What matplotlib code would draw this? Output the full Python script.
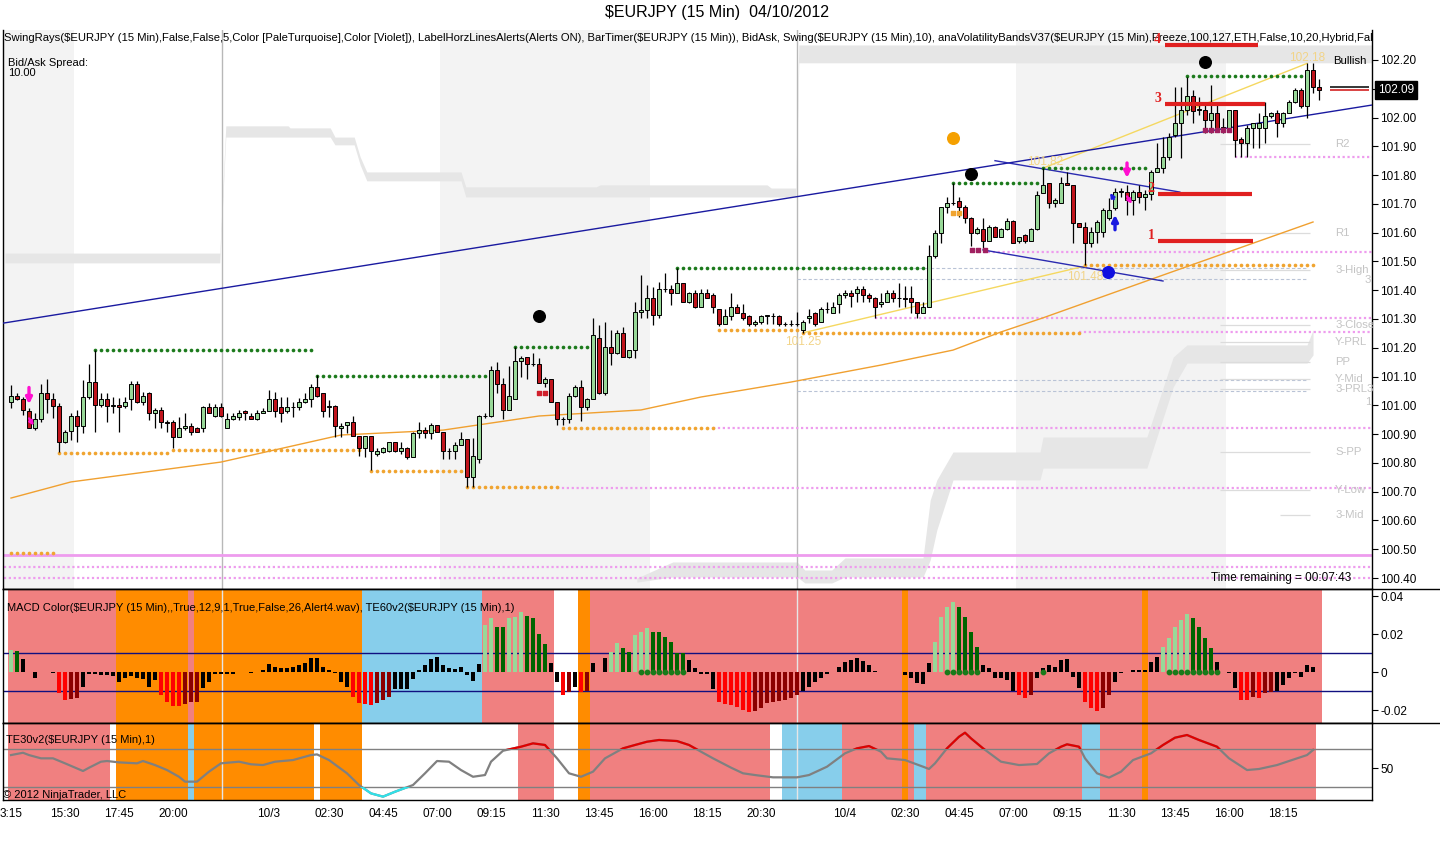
import numpy as np
import matplotlib.pyplot as plt
from matplotlib.patches import Rectangle
import matplotlib.transforms as mtransforms

plt.rcParams['font.family'] = ['Liberation Sans', 'DejaVu Sans']
plt.rcParams['font.size'] = 8

W, H = 1440, 847

# ---------------------------------------------------------------------------
# price bars, 15 min, bar 0 = 10/2 13:15
# ---------------------------------------------------------------------------
opens = [
    101.012, 101.032, 101.022, 100.982, 100.920, 100.952, 101.042, 101.021, 100.999, 100.872,
    100.911, 100.963, 100.930, 101.030, 101.080, 101.000, 101.022, 100.999, 101.001, 100.999,
    101.021, 101.073, 101.011, 101.042, 100.972, 100.984, 100.941, 100.941, 100.891, 100.920,
    100.930, 100.920, 100.920, 100.993, 100.963, 100.993, 100.920, 100.952, 100.961, 100.982,
    100.963, 100.952, 100.972, 100.982, 101.021, 100.993, 100.982, 100.993, 100.993, 101.011,
    101.021, 101.063, 101.042, 100.993, 100.999, 100.920, 100.932, 100.941, 100.894, 100.851,
    100.894, 100.831, 100.839, 100.842, 100.872, 100.842, 100.851, 100.822, 100.905, 100.914,
    100.903, 100.932, 100.909, 100.842, 100.842, 100.863, 100.883, 100.750, 100.813, 100.963,
    100.963, 101.123, 101.073, 100.984, 101.021, 101.154, 101.169, 101.142, 101.142, 101.079,
    101.090, 101.011, 100.952, 100.952, 101.033, 101.063, 100.993, 101.021, 101.233, 101.042,
    101.204, 101.181, 101.250, 101.169, 101.192, 101.325, 101.333, 101.372, 101.314, 101.403,
    101.403, 101.391, 101.424, 101.360, 101.391, 101.341, 101.392, 101.384, 101.334, 101.283,
    101.312, 101.341, 101.322, 101.312, 101.283, 101.291, 101.312, 101.312, 101.312, 101.283,
    101.283, 101.283, 101.262, 101.303, 101.322, 101.291, 101.334, 101.322, 101.352, 101.384,
    101.392, 101.392, 101.403, 101.384, 101.372, 101.352, 101.360, 101.392, 101.372, 101.372,
    101.372, 101.360, 101.322, 101.341, 101.519, 101.600, 101.690, 101.702, 101.711, 101.690,
    101.650, 101.600, 101.612, 101.572, 101.621, 101.584, 101.612, 101.642, 101.572, 101.592,
    101.572, 101.612, 101.737, 101.771, 101.702, 101.702, 101.771, 101.766, 101.632, 101.621,
    101.563, 101.603, 101.603, 101.650, 101.684, 101.742, 101.742, 101.713, 101.742, 101.725,
    101.733, 101.812, 101.823, 101.864, 101.939, 101.982, 102.026, 102.075, 102.028, 102.026,
    101.991, 102.014, 101.968, 101.962, 102.026, 101.924, 101.913, 101.962, 101.962, 101.962,
    102.005, 102.014, 101.982, 102.014, 102.055, 102.096, 102.040, 102.165, 102.107,
]
highs = [
    101.071, 101.042, 101.030, 100.990, 100.972, 101.073, 101.092, 101.042, 101.007, 100.914,
    100.975, 100.984, 101.088, 101.144, 101.194, 101.042, 101.042, 101.030, 101.025, 101.030,
    101.083, 101.083, 101.048, 101.048, 100.990, 100.996, 100.949, 100.949, 100.961, 100.972,
    100.938, 100.926, 100.998, 101.007, 101.005, 101.007, 100.972, 100.972, 100.984, 100.984,
    100.972, 100.984, 100.990, 101.054, 101.048, 101.030, 101.030, 101.013, 101.025, 101.042,
    101.073, 101.106, 101.042, 101.019, 101.001, 100.938, 100.941, 100.964, 100.894, 100.894,
    100.894, 100.851, 100.857, 100.872, 100.872, 100.872, 100.857, 100.909, 100.941, 100.926,
    100.938, 100.932, 100.909, 100.851, 100.874, 100.909, 100.883, 100.886, 100.967, 100.973,
    101.135, 101.152, 101.094, 101.135, 101.204, 101.171, 101.169, 101.181, 101.163, 101.099,
    101.090, 101.011, 100.961, 101.042, 101.071, 101.088, 101.025, 101.302, 101.279, 101.291,
    101.262, 101.262, 101.273, 101.192, 101.360, 101.453, 101.418, 101.412, 101.430, 101.461,
    101.418, 101.476, 101.424, 101.395, 101.401, 101.403, 101.403, 101.392, 101.334, 101.334,
    101.392, 101.352, 101.352, 101.314, 101.297, 101.314, 101.314, 101.320, 101.314, 101.291,
    101.295, 101.326, 101.297, 101.334, 101.326, 101.343, 101.360, 101.360, 101.389, 101.401,
    101.401, 101.413, 101.413, 101.389, 101.378, 101.392, 101.401, 101.401, 101.424, 101.413,
    101.413, 101.360, 101.360, 101.557, 101.610, 101.690, 101.725, 101.772, 101.723, 101.696,
    101.656, 101.619, 101.650, 101.627, 101.623, 101.615, 101.650, 101.644, 101.586, 101.596,
    101.615, 101.743, 101.823, 101.771, 101.719, 101.794, 101.812, 101.766, 101.634, 101.638,
    101.621, 101.644, 101.684, 101.719, 101.754, 101.754, 101.766, 101.748, 101.766, 101.748,
    101.818, 101.910, 101.933, 101.945, 102.105, 102.107, 102.142, 102.096, 102.072, 102.043,
    102.113, 102.055, 101.997, 102.026, 102.026, 101.933, 101.974, 101.982, 102.014, 102.055,
    102.020, 102.026, 102.020, 102.061, 102.101, 102.101, 102.188, 102.188, 102.133,
]
lows = [
    100.992, 101.019, 100.967, 100.920, 100.914, 100.943, 100.972, 100.955, 100.837, 100.868,
    100.880, 100.872, 100.903, 101.022, 100.909, 100.996, 100.941, 100.972, 100.909, 100.990,
    100.984, 101.007, 101.001, 100.949, 100.920, 100.920, 100.909, 100.851, 100.891, 100.914,
    100.897, 100.909, 100.909, 100.972, 100.961, 100.961, 100.920, 100.949, 100.949, 100.949,
    100.952, 100.949, 100.972, 100.982, 100.961, 100.941, 100.972, 100.961, 100.984, 101.007,
    100.993, 101.030, 100.961, 100.961, 100.891, 100.891, 100.903, 100.894, 100.824, 100.822,
    100.776, 100.824, 100.833, 100.839, 100.839, 100.831, 100.813, 100.822, 100.886, 100.886,
    100.883, 100.909, 100.813, 100.813, 100.813, 100.863, 100.718, 100.718, 100.801, 100.955,
    100.961, 101.042, 100.952, 100.984, 101.021, 101.099, 101.090, 101.135, 101.076, 101.065,
    101.011, 100.932, 100.932, 100.938, 101.030, 100.944, 100.984, 101.021, 101.040, 101.036,
    101.140, 101.178, 101.169, 101.163, 101.163, 101.302, 101.302, 101.279, 101.302, 101.395,
    101.349, 101.391, 101.360, 101.354, 101.337, 101.341, 101.372, 101.320, 101.274, 101.283,
    101.297, 101.320, 101.297, 101.274, 101.274, 101.283, 101.283, 101.283, 101.274, 101.274,
    101.274, 101.274, 101.252, 101.285, 101.274, 101.291, 101.320, 101.320, 101.320, 101.372,
    101.341, 101.360, 101.360, 101.360, 101.303, 101.343, 101.360, 101.360, 101.341, 101.341,
    101.320, 101.303, 101.320, 101.341, 101.511, 101.565, 101.667, 101.696, 101.656, 101.633,
    101.552, 101.596, 101.540, 101.572, 101.584, 101.584, 101.610, 101.563, 101.563, 101.563,
    101.572, 101.610, 101.737, 101.684, 101.690, 101.702, 101.766, 101.563, 101.621, 101.488,
    101.551, 101.563, 101.586, 101.644, 101.679, 101.725, 101.661, 101.661, 101.702, 101.679,
    101.713, 101.812, 101.806, 101.852, 101.933, 101.858, 102.009, 101.982, 102.009, 101.945,
    101.945, 101.957, 101.945, 101.957, 101.864, 101.864, 101.864, 101.893, 101.893, 101.910,
    101.997, 101.933, 101.968, 102.014, 102.049, 102.032, 101.997, 102.084, 102.061,
]
closes = [
    101.033, 101.022, 100.984, 100.920, 100.952, 101.042, 101.021, 100.999, 100.872, 100.909,
    100.963, 100.930, 101.030, 101.080, 101.000, 101.022, 100.999, 101.000, 100.993, 101.011,
    101.073, 101.011, 101.033, 100.972, 100.984, 100.941, 100.940, 100.891, 100.920, 100.930,
    100.909, 100.909, 100.993, 100.972, 100.993, 100.963, 100.952, 100.963, 100.972, 100.972,
    100.952, 100.972, 100.982, 101.021, 100.982, 100.972, 100.993, 100.994, 101.011, 101.021,
    101.063, 101.033, 100.982, 100.999, 100.930, 100.930, 100.941, 100.894, 100.851, 100.894,
    100.842, 100.842, 100.851, 100.872, 100.842, 100.851, 100.822, 100.905, 100.914, 100.903,
    100.932, 100.909, 100.842, 100.843, 100.863, 100.883, 100.750, 100.824, 100.963, 100.964,
    101.123, 101.073, 100.984, 101.033, 101.154, 101.163, 101.142, 101.143, 101.079, 101.090,
    101.011, 100.952, 100.953, 101.033, 101.063, 100.993, 101.021, 101.244, 101.042, 101.204,
    101.181, 101.250, 101.169, 101.192, 101.325, 101.333, 101.372, 101.314, 101.403, 101.404,
    101.391, 101.424, 101.360, 101.391, 101.340, 101.392, 101.372, 101.341, 101.283, 101.312,
    101.341, 101.322, 101.303, 101.283, 101.291, 101.312, 101.313, 101.311, 101.283, 101.284,
    101.282, 101.284, 101.291, 101.312, 101.283, 101.334, 101.335, 101.341, 101.384, 101.392,
    101.381, 101.403, 101.384, 101.372, 101.341, 101.360, 101.392, 101.372, 101.373, 101.371,
    101.360, 101.322, 101.341, 101.519, 101.600, 101.690, 101.702, 101.703, 101.690, 101.650,
    101.600, 101.612, 101.572, 101.621, 101.584, 101.612, 101.642, 101.563, 101.584, 101.572,
    101.612, 101.731, 101.766, 101.702, 101.713, 101.771, 101.766, 101.632, 101.621, 101.563,
    101.603, 101.638, 101.679, 101.679, 101.742, 101.743, 101.713, 101.742, 101.725, 101.733,
    101.812, 101.823, 101.864, 101.933, 101.982, 102.026, 102.075, 102.024, 102.027, 101.991,
    102.017, 101.957, 101.957, 102.026, 101.922, 101.913, 101.962, 101.982, 101.982, 102.005,
    102.014, 101.982, 102.014, 102.055, 102.096, 102.040, 102.165, 102.107, 102.096,
]

# MACD histogram (one value per bar)
macd_hist = [
    0.0116, 0.0110, 0.0068, 0.0000, -0.0033, -0.0002, 0.0002, -0.0005, -0.0112, -0.0147,
    -0.0140, -0.0135, -0.0077, -0.0012, -0.0012, -0.0016, -0.0016, -0.0020, -0.0050, -0.0033,
    -0.0020, -0.0033, -0.0037, -0.0077, -0.0042, -0.0121, -0.0156, -0.0177, -0.0178, -0.0168,
    -0.0160, -0.0156, -0.0086, -0.0051, -0.0012, -0.0009, -0.0009, -0.0009, 0.0000, -0.0002,
    -0.0003, -0.0002, 0.0010, 0.0040, 0.0028, 0.0020, 0.0020, 0.0028, 0.0037, 0.0050,
    0.0075, 0.0072, 0.0028, 0.0010, -0.0007, -0.0050, -0.0077, -0.0130, -0.0165, -0.0170,
    -0.0172, -0.0165, -0.0147, -0.0130, -0.0090, -0.0090, -0.0090, -0.0037, 0.0010, 0.0037,
    0.0068, 0.0080, 0.0037, 0.0023, 0.0016, 0.0028, -0.0016, -0.0047, 0.0040, 0.0247,
    0.0282, 0.0239, 0.0235, 0.0282, 0.0291, 0.0318, 0.0296, 0.0282, 0.0198, 0.0146,
    0.0050, -0.0050, -0.0120, -0.0105, -0.0077, -0.0104, -0.0101, 0.0046, 0.0000, 0.0075,
    0.0105, 0.0151, 0.0128, 0.0107, 0.0195, 0.0212, 0.0233, 0.0212, 0.0209, 0.0186,
    0.0160, 0.0102, 0.0101, 0.0063, 0.0020, -0.0012, -0.0012, -0.0090, -0.0156, -0.0170,
    -0.0174, -0.0182, -0.0200, -0.0209, -0.0205, -0.0188, -0.0165, -0.0156, -0.0153, -0.0147,
    -0.0135, -0.0121, -0.0100, -0.0077, -0.0050, -0.0033, -0.0012, -0.0002, 0.0028, 0.0054,
    0.0063, 0.0072, 0.0058, 0.0037, 0.0005, 0.0000, 0.0002, 0.0000, -0.0002, -0.0016,
    -0.0033, -0.0060, -0.0065, 0.0046, 0.0160, 0.0290, 0.0344, 0.0367, 0.0344, 0.0288,
    0.0212, 0.0133, 0.0037, 0.0020, -0.0030, -0.0033, -0.0042, -0.0100, -0.0121, -0.0139,
    -0.0121, -0.0033, 0.0020, 0.0037, 0.0028, 0.0063, 0.0068, -0.0025, -0.0086, -0.0156,
    -0.0191, -0.0205, -0.0188, -0.0121, -0.0054, -0.0007, -0.0002, 0.0010, 0.0010, 0.0010,
    0.0054, 0.0081, 0.0133, 0.0177, 0.0239, 0.0274, 0.0304, 0.0282, 0.0239, 0.0177,
    0.0128, 0.0054, 0.0000, -0.0005, -0.0086, -0.0147, -0.0147, -0.0130, -0.0135, -0.0112,
    -0.0107, -0.0100, -0.0068, -0.0030, -0.0007, -0.0025, 0.0037, 0.0028, 0.0000,
]
macd_dot_bars = [105, 106, 107, 108, 109, 110, 111, 112, 156, 157, 158, 159, 160, 161, 172,
                 193, 194, 195, 196, 197, 198, 199, 200, 201]

# TE30 line, read at these bars
te_bars = [0, 2, 3, 5, 7, 9, 12, 13, 15, 16, 18, 21, 22, 24, 26, 28, 29, 31, 33, 35,
           38, 40, 42, 44, 47, 50, 51, 53, 56, 58, 60, 62, 64, 67, 69, 71, 73, 75, 77, 79,
           80, 82, 85, 87, 89, 91, 93, 95, 97, 99, 102, 104, 106, 108, 111, 113, 115,
           117, 120, 122, 124, 127, 131, 133, 136, 139, 141, 143, 145, 146, 149, 152, 153,
           154, 156, 158, 159, 160, 162, 165, 168, 171, 173, 175, 176, 178, 179, 181, 183,
           185, 187, 190, 192, 194, 196, 198, 201, 203, 206, 208, 211, 213, 216, 217]
te_vals = [63.5, 65.9, 63.5, 60.1, 60.1, 54.9, 46.9, 50.3, 56.6, 57.3, 55.9, 54.9, 57.3, 53.1,
           47.9, 40.9, 35.8, 35.8, 46.2, 54.9, 56.6, 53.9, 53.1, 56.6, 58.3, 63.5, 64.2, 58.3,
           44.5, 32.3, 23.6, 20.2, 25.3, 32.3, 44.5, 57.3, 56.6, 47.9, 40.9, 42.7, 56.6, 68.0,
           72.2, 75.7, 74.0, 60.1, 44.5, 40.9, 46.2, 60.1, 70.5, 74.0, 77.4, 79.2, 78.1, 74.0,
           67.0, 60.1, 50.4, 44.5, 42.7, 40.3, 40.3, 42.7, 51.4, 65.3, 70.5, 72.9, 67.0, 60.1,
           58.3, 51.4, 49.0, 54.9, 70.5, 82.6, 86.8, 80.9, 70.5, 56.6, 53.1, 54.2, 65.3, 72.2,
           74.7, 72.2, 60.1, 44.5, 40.0, 46.2, 58.3, 65.3, 74.0, 81.6, 84.4, 79.2, 72.2, 60.1,
           47.9, 49.0, 53.1, 57.3, 63.5, 68.7]

# trend state backgrounds (bar spans)
macd_bg_start = [-0.5, 17.5, 29.5, 30.5, 58.5, 78.5, 94.5, 96.5, 148.5, 149.5, 188.5, 189.5]
macd_bg_end = [17.5, 29.5, 30.5, 58.5, 78.5, 90.5, 96.5, 148.5, 149.5, 188.5, 189.5, 218.5]
macd_bg_state = ['up', 'flat', 'up', 'flat', 'down', 'up', 'flat', 'up', 'flat', 'up', 'flat', 'up']
te_bg_start = [-0.5, 17.5, 29.5, 30.5, 51.5, 84.5, 94.5, 96.5, 128.5, 138.5, 148.5, 149.5,
               150.5, 152.5, 178.5, 181.5, 188.5, 189.5]
te_bg_end = [16.5, 29.5, 30.5, 50.5, 58.5, 90.5, 96.5, 126.5, 138.5, 148.5, 149.5, 150.5,
             152.5, 178.5, 181.5, 188.5, 189.5, 217.5]
te_bg_state = ['up', 'flat', 'down', 'flat', 'flat', 'up', 'flat', 'up', 'down', 'up', 'flat',
               'up', 'down', 'up', 'down', 'up', 'flat', 'up']

# swing rays: (start bar, end bar, price)
swing_hi_start = [14, 51, 84, 111, 157, 172, 196]
swing_hi_end = [50, 79, 96, 152, 171, 189, 217]
swing_hi_price = [101.194, 101.102, 101.204, 101.477, 101.772, 101.824, 102.145]
swing_lo_start = [0, 8, 27, 60, 76, 92, 118, 132, 179]
swing_lo_end = [7, 26, 58, 75, 91, 117, 131, 178, 217]
swing_lo_price = [100.487, 100.835, 100.846, 100.773, 100.716, 100.920, 101.262, 101.252, 101.486]

# violet level rays (start bar, price)
ray_start = [91, 117, 144, 162, 178, 204, -2, -2]
ray_price = [100.713, 100.920, 101.303, 101.533, 101.255, 101.863, 100.438, 100.400]
solid_ray_price = [100.480]

# volatility bands (bar, top, bottom)
ub_x = [-1.0, 34.8, 35.8, 46.2, 46.5, 53.2, 54.0, 57.2, 58.2, 59.3, 75.0, 75.8, 97.5, 98.2,
        126.0, 126.7, 130.8, 131.3, 226.8]
ub_hi = [101.529, 101.529, 101.971, 101.971, 101.964, 101.964, 101.932, 101.932, 101.863,
         101.811, 101.811, 101.759, 101.759, 101.766, 101.766, 101.755, 101.755, 102.252, 102.252]
ub_lo = [101.495, 101.495, 101.932, 101.932, 101.932, 101.932, 101.905, 101.905, 101.835,
         101.780, 101.780, 101.724, 101.724, 101.724, 101.724, 101.724, 101.724, 102.190, 102.190]
lb_x = [104.3, 110.3, 131.0, 132.3, 136.8, 139.0, 152.0, 153.2, 154.3, 157.0, 171.5, 172.0,
        189.3, 193.7, 196.0, 216.0, 217.0]
lb_hi = [100.400, 100.456, 100.456, 100.428, 100.428, 100.470, 100.470, 100.671, 100.741,
         100.838, 100.838, 100.890, 100.890, 101.168, 101.210, 101.210, 101.262]
lb_lo = [100.386, 100.404, 100.404, 100.383, 100.383, 100.404, 100.404, 100.463, 100.567,
         100.741, 100.741, 100.782, 100.782, 101.064, 101.147, 101.147, 101.175]

# moving average
ma_bars = [0, 10, 35, 55, 72, 88, 105, 115, 122, 130, 145, 157, 165, 172, 193, 217]
ma_vals = [100.678, 100.734, 100.803, 100.897, 100.914, 100.963, 100.984, 101.029, 101.053,
           101.081, 101.140, 101.192, 101.255, 101.304, 101.460, 101.637]

# swing connectors and trend lines (bar, price pairs)
zz_bars = [(132, 179), (172, 216)]
zz_prices = [(101.252, 101.484), (101.824, 102.188)]
trend_long = [(0, 101.290), (218, 102.014)]
chan_bars = [(164, 194.8), (162, 192)]
chan_prices = [(101.850, 101.741), (101.540, 101.432)]

# horizontal alert lines
alert_labels = ['4', '3', '2', '1']
alert_price = [102.252, 102.046, 101.734, 101.571]
alert_start = [192.3, 192.3, 191.2, 191.2]
alert_end = [207.8, 209.0, 206.8, 207.0]

# markers
black_dot_bars = [88, 160, 199]
black_dot_prices = [101.311, 101.804, 102.193]
session_breaks = [35.2, 131.0]
session_shade = [(-1.5, 10.5), (71.5, 106.5), (167.5, 202.5)]

# pivot labels
piv_text = ['R2', 'R1', '3-High', '3-Close', 'Y-PRL', 'PP', 'Y-Mid', '3-PRL3', 'S-PP', 'Y-Low', '3-Mid']
piv_price = [101.908, 101.599, 101.470, 101.279, 101.220, 101.151, 101.092, 101.058, 100.838,
             100.706, 100.619]

tick_bars = [0, 9, 18, 27, 43, 53, 62, 71, 80, 89, 98, 107, 116, 125, 139, 149, 158, 167, 176,
             185, 194, 203, 212]
tick_labels = ['3:15', '15:30', '17:45', '20:00', '10/3', '02:30', '04:45', '07:00', '09:15',
               '11:30', '13:45', '16:00', '18:15', '20:30', '10/4', '02:30', '04:45', '07:00',
               '09:15', '11:30', '13:45', '16:00', '18:15']


def px_box(x0, y0, x1, y1):
    return [x0 / W, 1 - y1 / H, (x1 - x0) / W, (y1 - y0) / H]


fig = plt.figure(figsize=(14.4, 8.47), dpi=100)
ax = fig.add_axes(px_box(3, 30, 1372, 589))
ax_m = fig.add_axes(px_box(3, 589, 1372, 723), sharex=ax)
ax_t = fig.add_axes(px_box(3, 723, 1372, 800), sharex=ax)

XMIN, XMAX = -1.333, 226.83
ax.set_xlim(XMIN, XMAX)
ax.set_ylim(100.362, 102.304)

# ------------------------- price panel -------------------------
for a, b in session_shade:
    ax.axvspan(a, b, color='#f3f3f3', lw=0, zorder=0)
for b in session_breaks:
    for a_ in (ax, ax_m, ax_t):
        a_.axvline(b, color='#b8b8b8' if a_ is ax else '#e6e6e6', lw=1, zorder=1.5)

ax.fill_between(ub_x, ub_lo, ub_hi, color='#e6e6e6', lw=0, zorder=1)
ax.fill_between(lb_x, lb_lo, lb_hi, color='#e6e6e6', lw=0, zorder=1)

# violet rays
for s, p in zip(ray_start, ray_price):
    ax.hlines(p, s, XMAX, colors='#ee9cee', lw=1.6, linestyles=(0, (1, 1.2)), zorder=2)
for p in solid_ray_price:
    ax.hlines(p, XMIN, XMAX, colors='#ee9cee', lw=2, zorder=2)

# faint pivot lines and labels
for p in [101.477, 101.440, 101.088, 101.050]:
    ax.hlines(p, 131, 216, colors='#b9c3d6', lw=0.8, linestyles=(0, (3, 2)), zorder=2)
for t, p in zip(piv_text, piv_price):
    ax.hlines(p, 201.5 if t != '3-Mid' else 211.5, 216.5, colors='#dcdcdc', lw=0.9, zorder=2)
    ax.text(220.7, p, t, color='#c4c4c4', fontsize=8.2, va='center', ha='left', zorder=3)
ax.text(225.6, 101.436, '3', color='#c4c4c4', fontsize=8.2, va='center', zorder=3)
ax.text(225.6, 101.012, '1', color='#c4c4c4', fontsize=8.2, va='center', zorder=3)

# moving average and connectors
ax.plot(ma_bars, ma_vals, color='#f0a030', lw=1.0, zorder=3)
for xs, ys in zip(zz_bars, zz_prices):
    ax.plot(xs, ys, color='#f5d860', lw=1.0, zorder=3)
ax.axline(trend_long[0], trend_long[1], color='#1a1aa0', lw=1.0, zorder=3)
for xs, ys in zip(chan_bars, chan_prices):
    ax.plot(xs, ys, color='#2a2ab0', lw=1.0, zorder=3)

# swing dots
for s, e, p in zip(swing_hi_start, swing_hi_end, swing_hi_price):
    xs = np.arange(s, e + 1)
    ax.scatter(xs, np.full(len(xs), p), s=7, color='#1c7a1c', lw=0, zorder=4)
for s, e, p in zip(swing_lo_start, swing_lo_end, swing_lo_price):
    xs = np.arange(s, e + 1)
    ax.scatter(xs, np.full(len(xs), p), s=7, color='#f0a430', lw=0, zorder=4)

# candles
o = np.array(opens)
h = np.array(highs)
l = np.array(lows)
c = np.array(closes)
idx = np.arange(len(c))
up = c >= o
lo_b = np.minimum(o, c)
ht = np.abs(c - o)
ax.vlines(idx, l, h, color='black', lw=0.9, zorder=5)
ax.bar(idx[up], ht[up], bottom=lo_b[up], width=0.64, color='#98d898',
       edgecolor='black', lw=0.7, zorder=6)
ax.bar(idx[~up], ht[~up], bottom=lo_b[~up], width=0.64, color='#c0141c',
       edgecolor='black', lw=0.7, zorder=6)

# pending swing squares
ax.scatter([88, 89], [101.043, 101.043], marker='s', s=9, color='#d0202c', zorder=7)
ax.scatter([160.2, 161.2, 162.3], [101.540] * 3, marker='s', s=9, color='#a02060', zorder=7)
ax.scatter([199, 200, 201, 202, 203], [101.957] * 5, marker='s', s=9, color='#a02060', zorder=7)
ax.scatter([157, 158], [101.668, 101.668], marker='s', s=9, color='#f0a430', zorder=7)

# swing points
ax.scatter(black_dot_bars, black_dot_prices, s=70, color='black', zorder=8)
ax.scatter([157], [101.929], s=70, color='#f5a000', zorder=8)
ax.scatter([182.8], [101.463], s=70, color='#1010e0', zorder=8)

# alert lines
for t, p, s, e in zip(alert_labels, alert_price, alert_start, alert_end):
    ax.hlines(p, s, e, colors='#e02020', lw=3, zorder=7)
    ax.text(s - 1.2, p + 0.02, t, color='#e02020', fontsize=10, fontweight='bold',
            family='Liberation Serif', ha='center', va='center', zorder=9)

# arrows


def arrow(x0, y0, x1, y1, color, lw=2.4, ms=9):
    ax.annotate('', xy=(x1, y1), xytext=(x0, y0), zorder=9,
                arrowprops=dict(arrowstyle='-|>', color=color, lw=lw, mutation_scale=ms,
                                shrinkA=0, shrinkB=0))


arrow(3, 101.062, 3, 101.004, '#ff10d0')
arrow(3.0, 100.955, 3.8, 100.930, '#ff10d0', lw=1.6, ms=6)
arrow(186, 101.842, 186, 101.790, '#ff10d0')
arrow(186.0, 101.726, 186.8, 101.700, '#ff10d0', lw=1.6, ms=6)
arrow(184, 101.610, 184, 101.662, '#1a1ae0')
arrow(183.8, 101.716, 183.2, 101.738, '#1a1ae0', lw=1.6, ms=6)

# labels
gold = '#f2d488'
ax.text(132, 101.219, '101.25', color=gold, fontsize=8.5, ha='center', va='center', zorder=9)
ax.text(172.3, 101.846, '101.82', color=gold, fontsize=8.5, ha='center', va='center', zorder=9)
ax.text(179, 101.447, '101.48', color=gold, fontsize=8.5, ha='center', va='center', zorder=9)
ax.text(216.0, 102.207, '102.18', color=gold, fontsize=8.5, ha='center', va='center', zorder=9)
ax.text(220.3, 102.195, 'Bullish', color='black', fontsize=8.2, ha='left', va='center', zorder=9)

# last price
ax.hlines(102.105, 219.8, 226.3, colors='black', lw=1.1, zorder=9)
ax.hlines(102.096, 219.8, 226.3, colors='#d01010', lw=1.1, zorder=9)
tr = mtransforms.blended_transform_factory(ax.transAxes, ax.transData)
ax.text(1.0045, 102.096, '102.09', transform=tr, color='white', fontsize=8.5, va='center',
        ha='left', bbox=dict(boxstyle='square,pad=0.25', fc='black', ec='black'), zorder=10,
        clip_on=False)

legend_txt = ('SwingRays($EURJPY (15 Min),False,False,5,Color [PaleTurquoise],Color [Violet]), '
              'LabelHorzLinesAlerts(Alerts ON), BarTimer($EURJPY (15 Min)), BidAsk, '
              'Swing($EURJPY (15 Min),10), anaVolatilityBandsV37($EURJPY (15 Min),Freeze,100,127,'
              'ETH,False,10,20,Hybrid,False,Fals')
ax.text(0.001, 1 - 8 / 559, legend_txt, transform=ax.transAxes, fontsize=8.1, va='center',
        ha='left', parse_math=False, clip_on=True, zorder=8)
ax.text(0.004, 1 - 28 / 559, 'Bid/Ask Spread:\n10.00', transform=ax.transAxes, fontsize=8,
        va='top', ha='left', linespacing=1.05, zorder=8)
ax.text(0.9845, 100.401, 'Time remaining = 00:07:43', transform=tr, fontsize=8.5,
        ha='right', va='center', zorder=9)

ax.yaxis.tick_right()
yt = np.round(np.arange(100.4, 102.21, 0.1), 2)
ax.set_yticks(yt)
ax.set_yticklabels([f'{v:.2f}' for v in yt])
ax.tick_params(axis='y', direction='out', length=4, labelsize=8.5, pad=2)
ax.tick_params(axis='x', bottom=False, labelbottom=False)
ax.spines['top'].set_visible(False)

# ------------------------- MACD panel -------------------------
state_col = {'up': '#f08080', 'flat': '#ff8c00', 'down': '#87ceeb'}
for s, e, st in zip(macd_bg_start, macd_bg_end, macd_bg_state):
    ax_m.axvspan(s, e, color=state_col[st], lw=0, zorder=0)
ax_m.set_ylim(-0.0268, 0.0437)
mh = np.array(macd_hist)
cols = []
for i, v in enumerate(mh):
    prev = mh[i - 1] if i else v
    if v > 0.01:
        cols.append('#98d898' if v >= prev else '#006400')
    elif v < -0.01:
        cols.append('#ff0000' if v <= prev else '#8b0000')
    else:
        cols.append('black')
ax_m.bar(np.arange(len(mh)), mh, width=0.68, color=cols, lw=0, zorder=3)
ax_m.scatter(macd_dot_bars, [0.0] * len(macd_dot_bars), s=10, color='#1a7a1a', zorder=4)
for lv in (0.01, -0.01):
    ax_m.axhline(lv, color='#101080', lw=1, zorder=2)
ax_m.yaxis.tick_right()
ax_m.set_yticks([0.04, 0.02, 0, -0.02])
ax_m.set_yticklabels(['0.04', '0.02', '0', '-0.02'])
ax_m.tick_params(axis='y', direction='out', length=4, labelsize=8.5, pad=2)
ax_m.tick_params(axis='x', bottom=False, labelbottom=False)
ax_m.text(0.003, 0.86, 'MACD Color($EURJPY (15 Min),,True,12,9,1,True,False,26,Alert4.wav), '
          'TE60v2($EURJPY (15 Min),1)', transform=ax_m.transAxes, fontsize=8, va='center',
          parse_math=False, zorder=5)

# ------------------------- TE30 panel -------------------------
for s, e, st in zip(te_bg_start, te_bg_end, te_bg_state):
    ax_t.axvspan(s, e, color=state_col[st], lw=0, zorder=0)
ax_t.set_ylim(16.7, 96.9)
for lv in (70, 30):
    ax_t.axhline(lv, color='#808080', lw=1, zorder=1)
ax_t.plot(te_bars, te_vals, color='#808080', lw=1.6, zorder=3)
hi_line, = ax_t.plot(te_bars, te_vals, color='#e00000', lw=1.6, zorder=4)
lo_line, = ax_t.plot(te_bars, te_vals, color='#30e0e8', lw=1.6, zorder=4)
hi_line.set_clip_path(Rectangle((XMIN, 70), XMAX - XMIN, 40, transform=ax_t.transData))
lo_line.set_clip_path(Rectangle((XMIN, 0), XMAX - XMIN, 30, transform=ax_t.transData))
ax_t.yaxis.tick_right()
ax_t.set_yticks([50])
ax_t.tick_params(axis='y', direction='out', length=4, labelsize=8.5, pad=2)
ax_t.set_xticks(tick_bars)
ax_t.set_xticklabels(tick_labels)
ax_t.tick_params(axis='x', length=0, labelsize=8.5, pad=6)
ax_t.text(0.002, 0.78, 'TE30v2($EURJPY (15 Min),1)', transform=ax_t.transAxes, fontsize=8,
          va='center', parse_math=False, zorder=5)
ax_t.text(0.0, 0.07, '\u00a9 2012 NinjaTrader, LLC', transform=ax_t.transAxes, fontsize=8,
          va='center', zorder=5)

for a_ in (ax, ax_m, ax_t):
    for sp in a_.spines.values():
        sp.set_linewidth(1)

# panel separators running under the price scale
for ypx in (589, 723):
    fig.add_artist(plt.Line2D([3 / W, 1], [1 - ypx / H] * 2, color='black', lw=1))

fig.text(0.498, 1 - 12 / H, '$EURJPY (15 Min)  04/10/2012', fontsize=11.5, ha='center',
         va='center', parse_math=False)

fig.savefig('out.png', dpi=100)
